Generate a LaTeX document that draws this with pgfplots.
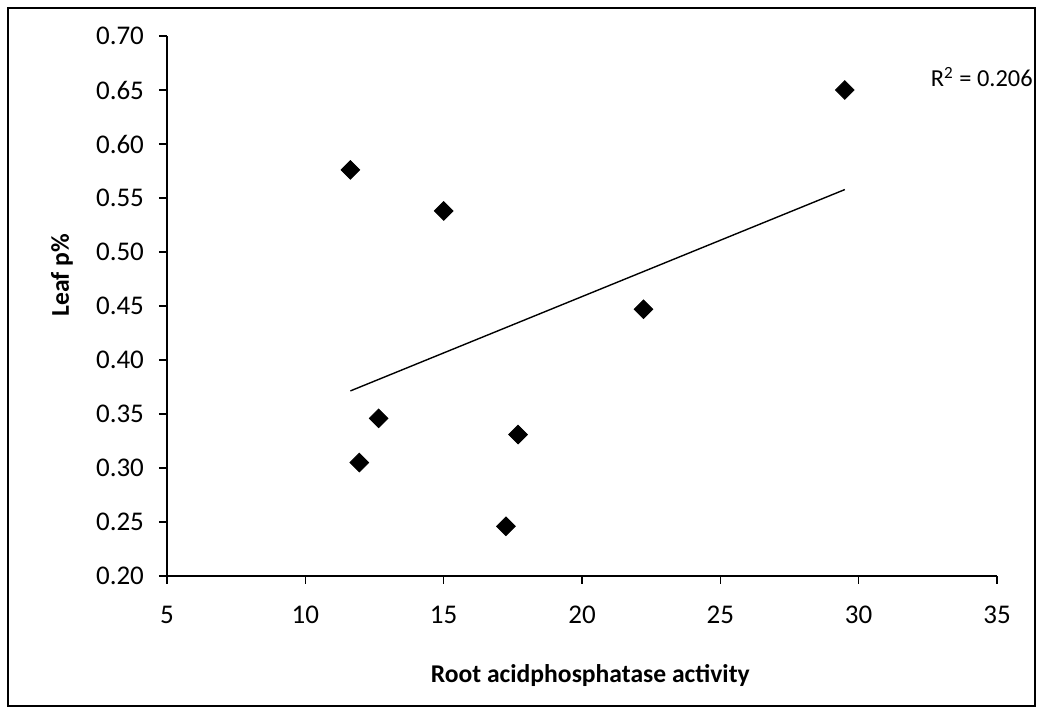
\documentclass[border=0pt]{standalone}
\usepackage{fontspec}
\setmainfont{Carlito}
\usepackage{pgfplots}
\usepackage{pgfplotstable}
\pgfplotsset{compat=1.18}
\pgfplotstableread{
x y
11.63 0.576
15.00 0.538
12.65 0.346
11.95 0.305
17.25 0.246
17.69 0.331
22.22 0.447
29.50 0.650
}\datatable
\begin{document}
\begin{tikzpicture}[x=1pt,y=1pt]
\useasboundingbox (-83.5,-72.5) rectangle (436,288);
\draw[line width=0.9pt] (-79.5,-65) rectangle (434,284);
\begin{axis}[
  at={(0,0)}, anchor=south west,
  scale only axis, width=415pt, height=270pt,
  xmin=5, xmax=35, ymin=0.2, ymax=0.7,
  axis lines=left,
  axis line style={-, line width=0.8pt, black},
  xtick={5,10,...,35},
  ytick={0.20,0.25,...,0.70},
  tick align=outside,
  major tick length=4pt,
  tick style={black, line width=0.8pt},
  /pgf/number format/assume math mode=true,
  yticklabel style={/pgf/number format/fixed, /pgf/number format/fixed zerofill, /pgf/number format/precision=2, xshift=-4pt},
  ticklabel style={font=\fontsize{13.5}{15}\selectfont},
  xticklabel style={yshift=-7.5pt},
  xlabel={\textbf{Root acidphosphatase activity}},
  ylabel={\textbf{Leaf p\%}},
  label style={font=\fontsize{12.8}{15}\selectfont},
  xlabel style={at={(axis description cs:0.51,-0.185)}, anchor=center},
  ylabel style={at={(axis description cs:-0.1265,0.557)}, anchor=center},
  clip=false,
]
\addplot[only marks, mark=square*, mark size=3.3pt, mark options={rotate=45, fill=black, draw=black}] table {\datatable};
\addplot[no marks, black, line width=0.7pt] table[y={create col/linear regression={y=y}}] {\datatable};
\node[font=\fontsize{12.2}{14}\selectfont, anchor=center] at (axis cs:34.45,0.662) {R\textsuperscript{2} = 0.206};
\end{axis}
\end{tikzpicture}
\end{document}
